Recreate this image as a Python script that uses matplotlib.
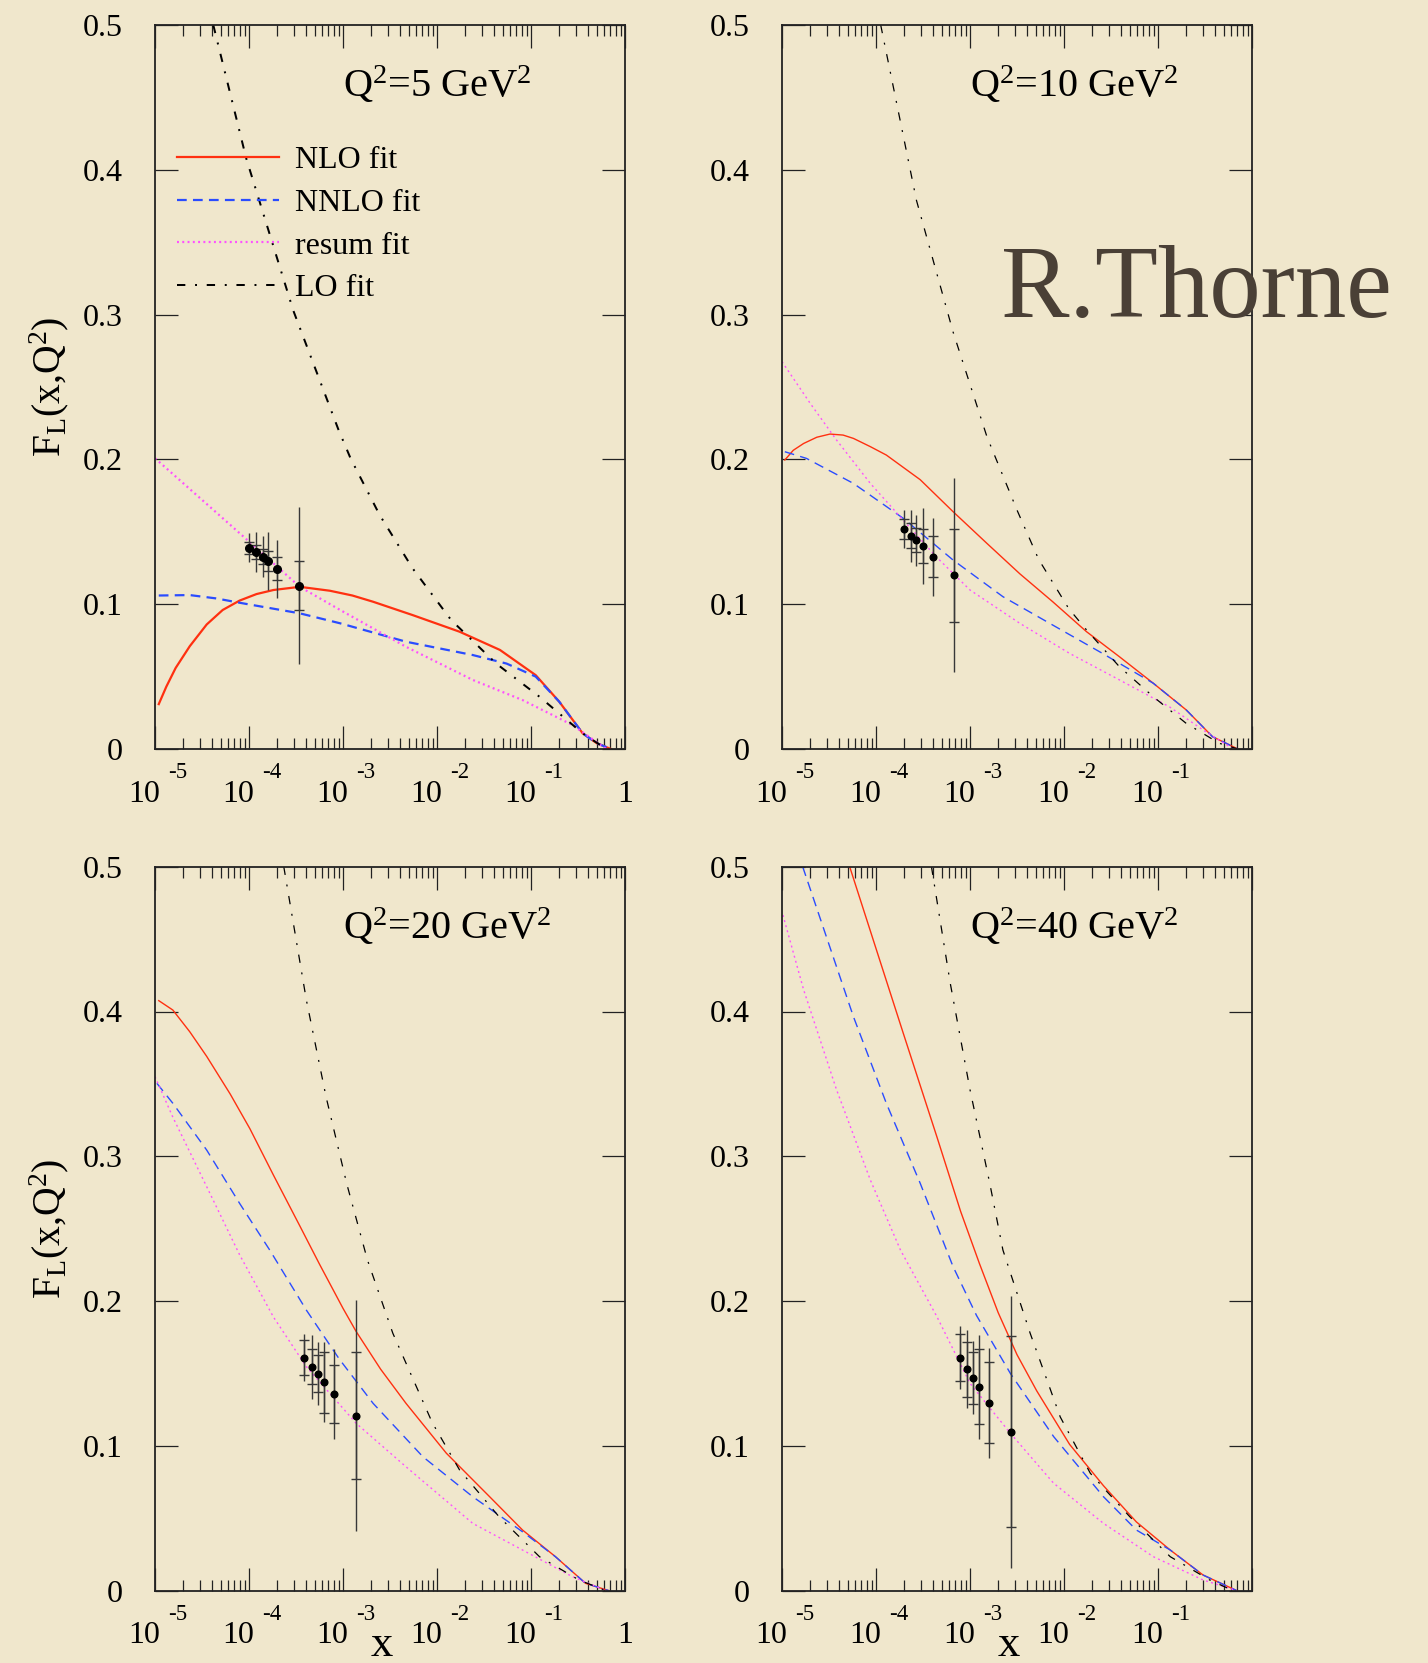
import numpy as np
import matplotlib
matplotlib.use('Agg')
import matplotlib.pyplot as plt
from matplotlib.ticker import FixedLocator, FixedFormatter, LogLocator, NullFormatter

plt.rcParams['font.family'] = ['Liberation Serif', 'DejaVu Serif']
plt.rcParams['mathtext.fontset'] = 'custom'
plt.rcParams['mathtext.rm'] = 'Liberation Serif'
plt.rcParams['mathtext.it'] = 'Liberation Serif:italic'
plt.rcParams['lines.scale_dashes'] = False

# ---- F_L curves, log10(x) vs F_L, one set per Q^2 ----
q2_values = [5, 10, 20, 40]

# Q^2 = 5
nlo_lx_5 = [-4.96, -4.88, -4.78, -4.63, -4.45, -4.28, -4.10, -3.92, -3.74, -3.46, -3.14, -2.90, -2.68,
            -2.26, -1.76, -1.33, -0.95, -0.70, -0.45, -0.30, -0.15]
nlo_f_5 = [0.031, 0.043, 0.056, 0.071, 0.086, 0.096, 0.1025, 0.107, 0.1098, 0.112, 0.1093, 0.106, 0.1017,
           0.0925, 0.081, 0.0684, 0.051, 0.0327, 0.0108, 0.004, 0.0]
nnlo_lx_5 = [-4.96, -4.63, -4.35, -4.10, -3.46, -3.03, -2.33, -1.62, -1.26, -0.95, -0.70, -0.45, -0.30, -0.15]
nnlo_f_5 = [0.106, 0.1063, 0.104, 0.101, 0.0937, 0.0868, 0.0741, 0.0649, 0.059, 0.050, 0.0327, 0.0108, 0.004, 0.0]
res_lx_5 = [-5.0, -4.45, -3.99, -3.46, -3.03, -2.33, -1.62, -1.09, -0.56, -0.35, -0.20]
res_f_5 = [0.2008, 0.1692, 0.1427, 0.112, 0.096, 0.0706, 0.0477, 0.0338, 0.0166, 0.007, 0.0]
lo_lx_5 = [-4.38, -4.03, -3.53, -3.05, -2.92, -2.61, -2.26, -1.85, -1.37, -0.91, -0.45, -0.20]
lo_f_5 = [0.50, 0.408, 0.303, 0.2208, 0.2008, 0.1616, 0.1248, 0.0891, 0.059, 0.0361, 0.0108, 0.0]

# Q^2 = 10
nlo_lx_10 = [-4.97, -4.88, -4.77, -4.63, -4.49, -4.35, -4.24, -4.06, -3.89, -3.53, -3.18, -2.82, -2.47,
             -2.12, -1.76, -1.41, -1.05, -0.70, -0.42, -0.15]
nlo_f_10 = [0.1996, 0.2063, 0.211, 0.2153, 0.2175, 0.2168, 0.2145, 0.2088, 0.203, 0.186, 0.1639, 0.142, 0.121,
            0.1017, 0.081, 0.0637, 0.0454, 0.027, 0.0085, 0.0]
nnlo_lx_10 = [-4.97, -4.74, -4.24, -3.71, -3.18, -2.65, -2.12, -1.59, -1.05, -0.70, -0.42, -0.15]
nnlo_f_10 = [0.2053, 0.2007, 0.1834, 0.1593, 0.1305, 0.1052, 0.0856, 0.066, 0.0454, 0.027, 0.0085, 0.0]
res_lx_10 = [-5.0, -4.70, -4.42, -4.06, -3.71, -3.36, -3.0, -2.47, -1.94, -1.41, -0.88, -0.52, -0.24, -0.18]
res_f_10 = [0.2675, 0.2387, 0.2134, 0.1834, 0.158, 0.1328, 0.1098, 0.0868, 0.066, 0.0477, 0.0292, 0.0131,
            0.0016, 0.0]
lo_lx_10 = [-3.95, -3.57, -3.18, -2.82, -2.50, -2.27, -2.11, -1.95, -1.76, -1.41, -1.05, -0.70, -0.35, -0.15]
lo_f_10 = [0.50, 0.379, 0.288, 0.2157, 0.165, 0.131, 0.114, 0.097, 0.0822, 0.0568, 0.0361, 0.0177, 0.004, 0.0]

# Q^2 = 20
nlo_lx_20 = [-4.96, -4.81, -4.63, -4.45, -4.20, -3.99, -3.74, -3.46, -3.25, -3.0, -2.86, -2.60, -2.33,
             -1.90, -1.44, -1.09, -0.74, -0.42, -0.17]
nlo_f_20 = [0.4075, 0.401, 0.386, 0.369, 0.343, 0.319, 0.287, 0.252, 0.2255, 0.195, 0.179, 0.153, 0.1294,
            0.0949, 0.0649, 0.0419, 0.0235, 0.0051, 0.0]
nnlo_lx_20 = [-4.98, -4.81, -4.45, -4.10, -3.78, -3.39, -3.04, -2.68, -2.15, -1.62, -1.09, -0.74, -0.42, -0.17]
nnlo_f_20 = [0.3504, 0.3366, 0.3043, 0.2675, 0.2353, 0.1938, 0.160, 0.1294, 0.0925, 0.0649, 0.0407, 0.0235,
             0.0051, 0.0]
res_lx_20 = [-5.0, -4.81, -4.45, -4.10, -3.74, -3.39, -2.86, -2.33, -1.62, -1.09, -0.56, -0.20]
res_f_20 = [0.355, 0.327, 0.279, 0.232, 0.189, 0.1547, 0.1156, 0.0856, 0.0465, 0.0281, 0.0097, 0.0]
lo_lx_20 = [-3.63, -3.39, -3.18, -2.96, -2.74, -2.47, -2.05, -1.76, -1.34, -0.91, -0.49, -0.20]
lo_f_20 = [0.50, 0.408, 0.341, 0.281, 0.2284, 0.1778, 0.116, 0.0834, 0.0511, 0.0235, 0.0074, 0.0]

# Q^2 = 40
nlo_lx_40 = [-4.28, -3.71, -3.35, -3.10, -2.90, -2.70, -2.50, -2.29, -1.94, -1.58, -1.23, -0.87, -0.52, -0.16]
nlo_f_40 = [0.50, 0.385, 0.313, 0.262, 0.226, 0.192, 0.163, 0.138, 0.101, 0.0725, 0.0475, 0.0281, 0.0108, 0.0]
nnlo_lx_40 = [-4.78, -4.24, -3.89, -3.53, -3.18, -2.93, -2.57, -2.11, -1.58, -1.23, -0.87, -0.52, -0.16]
nnlo_f_40 = [0.50, 0.3964, 0.3366, 0.2814, 0.2238, 0.190, 0.150, 0.1064, 0.0649, 0.0419, 0.0281, 0.0108, 0.0]
res_lx_40 = [-4.99, -4.77, -4.42, -4.06, -3.74, -3.35, -3.0, -2.57, -2.11, -1.58, -1.05, -0.52, -0.16]
res_f_40 = [0.4666, 0.415, 0.346, 0.2836, 0.2353, 0.189, 0.1432, 0.1087, 0.0742, 0.0465, 0.0235, 0.0074, 0.0]
lo_lx_40 = [-3.41, -3.21, -3.0, -2.79, -2.65, -2.36, -2.04, -1.72, -1.30, -0.87, -0.45, -0.20]
lo_f_40 = [0.50, 0.4195, 0.346, 0.2814, 0.2353, 0.1778, 0.120, 0.0811, 0.0511, 0.0235, 0.0074, 0.0]

# ---- measured F_L points: x, value, stat (inner) and total (outer) errors ----
data_x_5 = [1.0e-4, 1.19e-4, 1.40e-4, 1.60e-4, 2.0e-4, 3.41e-4]
data_f_5 = [0.139, 0.136, 0.1328, 0.1298, 0.1245, 0.1128]
data_stat_5 = [0.004, 0.005, 0.005, 0.0066, 0.008, 0.017]
data_tot_5 = [0.010, 0.014, 0.014, 0.020, 0.020, 0.054]

data_x_10 = [2.0e-4, 2.38e-4, 2.67e-4, 3.14e-4, 4.04e-4, 6.76e-4]
data_f_10 = [0.152, 0.1473, 0.1443, 0.1402, 0.1328, 0.120]
data_stat_10 = [0.007, 0.0085, 0.008, 0.012, 0.014, 0.032]
data_tot_10 = [0.013, 0.018, 0.0176, 0.026, 0.027, 0.067]

data_x_20 = [3.88e-4, 4.67e-4, 5.37e-4, 6.22e-4, 8.09e-4, 1.36e-3]
data_f_20 = [0.161, 0.1547, 0.150, 0.144, 0.1358, 0.1209]
data_stat_20 = [0.012, 0.012, 0.013, 0.021, 0.020, 0.044]
data_tot_20 = [0.016, 0.022, 0.022, 0.0275, 0.031, 0.080]

data_x_40 = [7.76e-4, 9.29e-4, 1.07e-3, 1.25e-3, 1.60e-3, 2.71e-3]
data_f_40 = [0.161, 0.1529, 0.1471, 0.1409, 0.1298, 0.1098]
data_stat_40 = [0.016, 0.019, 0.018, 0.026, 0.028, 0.066]
data_tot_40 = [0.022, 0.027, 0.025, 0.036, 0.038, 0.094]

x_ticks = [1e-5, 1e-4, 1e-3, 1e-2, 1e-1, 1.0]
x_exps = [-5, -4, -3, -2, -1, 0]
y_ticks = [0.0, 0.1, 0.2, 0.3, 0.4, 0.5]
y_labels = ['0', '0.1', '0.2', '0.3', '0.4', '0.5']
legend_labels = ['NLO fit', 'NNLO fit', 'resum fit', 'LO fit']

curves = {
    5: (nlo_lx_5, nlo_f_5, nnlo_lx_5, nnlo_f_5, res_lx_5, res_f_5, lo_lx_5, lo_f_5),
    10: (nlo_lx_10, nlo_f_10, nnlo_lx_10, nnlo_f_10, res_lx_10, res_f_10, lo_lx_10, lo_f_10),
    20: (nlo_lx_20, nlo_f_20, nnlo_lx_20, nnlo_f_20, res_lx_20, res_f_20, lo_lx_20, lo_f_20),
    40: (nlo_lx_40, nlo_f_40, nnlo_lx_40, nnlo_f_40, res_lx_40, res_f_40, lo_lx_40, lo_f_40),
}
points = {
    5: (data_x_5, data_f_5, data_stat_5, data_tot_5),
    10: (data_x_10, data_f_10, data_stat_10, data_tot_10),
    20: (data_x_20, data_f_20, data_stat_20, data_tot_20),
    40: (data_x_40, data_f_40, data_stat_40, data_tot_40),
}

PAPER = '#f0e7cc'
RED = '#ff3010'
BLUE = '#2a4cff'
MAGENTA = '#ff50ff'
ERR = '#383838'

W, H = 1428, 1663
fig = plt.figure(figsize=(W / 100, H / 100), dpi=100, facecolor=PAPER)

# panel boxes in pixels: left edge, bottom edge (from top)
boxes = {5: (155, 749), 10: (782, 749), 20: (155, 1590.7), 40: (782, 1590.7)}
pw, ph = 470, 724


def label_decades(ax, show_one):
    # "10" with a raised exponent under each decade tick, xmgr style
    trans = ax.get_xaxis_transform()
    for t, e in zip(x_ticks, x_exps):
        if e == 0:
            if show_one:
                ax.annotate('1', xy=(t, 0), xycoords=trans, xytext=(0, -38),
                            textcoords='offset points', ha='center', va='baseline', fontsize=23)
            continue
        ax.annotate('10', xy=(t, 0), xycoords=trans, xytext=(-7.5, -38),
                    textcoords='offset points', ha='center', va='baseline', fontsize=23)
        ax.annotate('%d' % e, xy=(t, 0), xycoords=trans, xytext=(9.5, -21),
                    textcoords='offset points', ha='left', va='baseline', fontsize=16.5)


def draw_panel(q2):
    left, bottom = boxes[q2]
    ax = fig.add_axes([left / W, 1 - bottom / H, pw / W, ph / H])
    ax.set_facecolor('none')
    lw = 1.6 if q2 == 5 else 1.0

    nlo_lx, nlo_f, nnlo_lx, nnlo_f, res_lx, res_f, lo_lx, lo_f = curves[q2]
    h1, = ax.plot(10 ** np.array(nlo_lx), nlo_f, color=RED, lw=lw)
    h2, = ax.plot(10 ** np.array(nnlo_lx), nnlo_f, color=BLUE, lw=lw, dashes=(7, 4.5))
    h3, = ax.plot(10 ** np.array(res_lx), res_f, color=MAGENTA, lw=lw, dashes=(1.4, 2.4))
    h4, = ax.plot(10 ** np.array(lo_lx), lo_f, color='black', lw=lw * 0.9, dashes=(6, 7, 1.4, 7))

    px, pf, stat, tot = points[q2]
    ax.errorbar(px, pf, yerr=tot, fmt='none', ecolor=ERR, elinewidth=1.0, capsize=0)
    ax.errorbar(px, pf, yerr=stat, fmt='none', ecolor=ERR, elinewidth=1.0, capsize=3.5, capthick=1.0)
    ax.plot(px, pf, 'o', color='black', ms=5.5 if q2 == 5 else 4.8, zorder=5)

    ax.set_xscale('log')
    ax.set_xlim(1e-5, 1)
    ax.set_ylim(0, 0.5)

    ax.xaxis.set_major_locator(FixedLocator(x_ticks))
    ax.xaxis.set_major_formatter(NullFormatter())
    ax.xaxis.set_minor_locator(LogLocator(base=10, subs=np.arange(2, 10), numticks=20))
    ax.xaxis.set_minor_formatter(NullFormatter())
    ax.yaxis.set_major_locator(FixedLocator(y_ticks))
    ax.yaxis.set_major_formatter(FixedFormatter(y_labels))

    ax.tick_params(which='both', direction='in', top=True, right=True, width=0.9, color='#222222')
    ax.tick_params(which='major', length=16.5)
    ax.tick_params(which='minor', length=8)
    ax.tick_params(axis='y', which='major', labelsize=23, pad=23)
    for s in ax.spines.values():
        s.set_linewidth(1.3)
        s.set_color('#222222')

    label_decades(ax, show_one=q2 in (5, 20))

    ax.text(0.40, 0.90, r'Q$^2$=%d GeV$^2$' % q2, transform=ax.transAxes,
            ha='left', va='baseline', fontsize=29)

    if q2 in (5, 20):
        ax.set_ylabel(r'F$_\mathregular{L}$(x,Q$^2$)', fontsize=28.5, labelpad=9)
    if q2 in (20, 40):
        ax.text(0.483, -0.0905, 'x', transform=ax.transAxes, ha='center', va='baseline', fontsize=32)
    return ax, (h1, h2, h3, h4)


for q2 in q2_values:
    ax, handles = draw_panel(q2)
    if q2 == 5:
        ax.legend(handles, legend_labels, loc='upper left', bbox_to_anchor=(0.02, 0.851),
                  frameon=False, fontsize=23, handlelength=3.2, handletextpad=0.5,
                  labelspacing=0.42, borderaxespad=0)

fig.text(1001 / W, 1 - 317 / H, 'R.Thorne', fontsize=74, color='#4a4036',
         ha='left', va='baseline')

fig.savefig('out.png', dpi=100, facecolor=PAPER)
